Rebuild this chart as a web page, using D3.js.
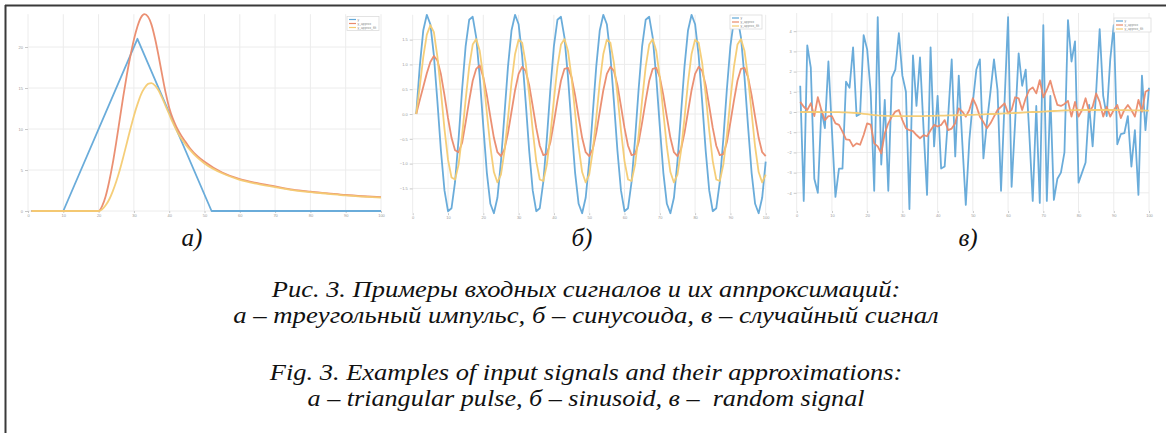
<!DOCTYPE html>
<html><head><meta charset="utf-8">
<script src="https://cdn.jsdelivr.net/npm/d3@7/dist/d3.min.js"></script>
<style>html,body{margin:0;padding:0;background:#fff;}svg{display:block;}</style>
</head><body>
<svg id="chart" width="1166" height="433"></svg>
<script>
// ---------- DATA ----------
const seriesNames = ["y", "y_approx", "y_approx_filt"];
const seriesColors = ["#62a8d8", "#ea8a6c", "#f4cb72"];

// Panel a: triangular pulse
const triX = [1, 10, 31, 52, 100];
const triY = [0, 0, 21, 0, 0];
const pulseApproxX = [1, 20, 21, 22, 23, 24, 25, 26, 27, 28, 29, 30, 31, 32, 33, 34, 35, 36, 37, 38, 39, 40, 41, 42, 43, 44, 45, 46, 48, 50, 55, 60, 65, 70, 75, 80, 85, 90, 95, 100];
const pulseApproxY = [0, 0, 0.6, 1.8, 3.6, 5.8, 8.4, 11.2, 14.0, 16.6, 18.9, 20.9, 22.5, 23.6, 24.0, 23.7, 22.7, 21.0, 18.9, 16.6, 14.4, 12.6, 11.3, 10.3, 9.5, 8.8, 8.2, 7.6, 6.7, 6.0, 4.7, 3.9, 3.4, 3.0, 2.6, 2.35, 2.15, 1.95, 1.8, 1.68];
const pulseFiltX = [1, 20, 21, 22, 23, 24, 25, 26, 27, 28, 29, 30, 31, 32, 33, 34, 35, 36, 37, 38, 39, 40, 41, 42, 43, 44, 45, 46, 48, 50, 55, 60, 65, 70, 75, 80, 85, 90, 95, 100];
const pulseFiltY = [0, 0, 0.2, 0.7, 1.4, 2.4, 3.6, 5.0, 6.6, 8.3, 10.0, 11.6, 13.0, 14.2, 15.0, 15.5, 15.6, 15.3, 14.7, 13.8, 12.8, 11.8, 10.8, 9.9, 9.1, 8.5, 7.9, 7.4, 6.5, 5.8, 4.6, 3.8, 3.3, 2.9, 2.55, 2.3, 2.1, 1.9, 1.75, 1.63];

// Panel b: sinusoid (samples 1..100)
const sineY = [0, 0.96, 1.69, 2.00, 1.81, 1.18, 0.25, -0.74, -1.54, -1.96, -1.90, -1.37, -0.50, 0.50, 1.37, 1.90, 1.96, 1.54, 0.74, -0.25, -1.18, -1.81, -2.00, -1.69, -0.96,
  0, 0.96, 1.69, 2.00, 1.81, 1.18, 0.25, -0.74, -1.54, -1.96, -1.90, -1.37, -0.50, 0.50, 1.37, 1.90, 1.96, 1.54, 0.74, -0.25, -1.18, -1.81, -2.00, -1.69, -0.96,
  0, 0.96, 1.69, 2.00, 1.81, 1.18, 0.25, -0.74, -1.54, -1.96, -1.90, -1.37, -0.50, 0.50, 1.37, 1.90, 1.96, 1.54, 0.74, -0.25, -1.18, -1.81, -2.00, -1.69, -0.96,
  0, 0.96, 1.69, 2.00, 1.81, 1.18, 0.25, -0.74, -1.54, -1.96, -1.90, -1.37, -0.50, 0.50, 1.37, 1.90, 1.96, 1.54, 0.74, -0.25, -1.18, -1.81, -2.00, -1.69, -0.96];
const sineApproxY = [0.00, 0.28, 0.55, 0.82, 1.05, 1.17, 1.08, 0.80, 0.38, -0.08, -0.48, -0.73, -0.77, -0.58, -0.17, 0.27, 0.67, 0.91, 0.98, 0.74, 0.38, -0.06, -0.48, -0.77, -0.85,
  -0.71, -0.38, 0.05, 0.48, 0.81, 0.95, 0.87, 0.58, 0.16, -0.28, -0.64, -0.83, -0.81, -0.57, -0.17, 0.27, 0.67, 0.91, 0.93, 0.74, 0.38, -0.06, -0.48, -0.77, -0.85,
  -0.71, -0.38, 0.05, 0.48, 0.81, 0.95, 0.87, 0.58, 0.16, -0.28, -0.64, -0.83, -0.81, -0.57, -0.17, 0.27, 0.67, 0.91, 0.93, 0.74, 0.38, -0.06, -0.48, -0.77, -0.85,
  -0.71, -0.38, 0.05, 0.48, 0.81, 0.95, 0.87, 0.58, 0.16, -0.28, -0.64, -0.83, -0.81, -0.57, -0.17, 0.27, 0.67, 0.91, 0.93, 0.74, 0.38, -0.06, -0.48, -0.77, -0.85];
const sineFiltY = [0.00, 0.55, 1.15, 1.60, 1.79, 1.65, 1.15, 0.45, -0.30, -0.92, -1.28, -1.32, -1.02, -0.43, 0.29, 0.95, 1.40, 1.51, 1.27, 0.74, 0.03, -0.66, -1.17, -1.38, -1.22,
  -0.75, -0.08, 0.64, 1.21, 1.50, 1.44, 1.03, 0.39, -0.33, -0.95, -1.32, -1.35, -1.02, -0.43, 0.29, 0.95, 1.40, 1.51, 1.27, 0.74, 0.03, -0.66, -1.17, -1.38, -1.22,
  -0.75, -0.08, 0.64, 1.21, 1.50, 1.44, 1.03, 0.39, -0.33, -0.95, -1.32, -1.35, -1.02, -0.43, 0.29, 0.95, 1.40, 1.51, 1.27, 0.74, 0.03, -0.66, -1.17, -1.38, -1.22,
  -0.75, -0.08, 0.64, 1.21, 1.50, 1.44, 1.03, 0.39, -0.33, -0.95, -1.32, -1.35, -1.02, -0.43, 0.29, 0.95, 1.40, 1.51, 1.27, 0.74, 0.03, -0.66, -1.17, -1.38, -1.22];

// Panel c: random signal (samples 1..100)
const randY = [1.3, -4.4, 3.3, 2.2, -3.3, -4.0, 0.1, -0.8, 2.5, -0.9,
  -4.2, -2.8, -2.8, 1.5, 1.2, 3.2, -0.2, -0.1, 3.8, 3.1,
  1.0, -3.9, 4.7, -2.6, 0.6, -3.9, 1.7, 2.1, 3.9, 1.8,
  1.0, -4.8, 2.8, 0.3, 2.7, -0.8, -4.1, 3.2, -1.7, 0.8,
  -2.8, -2.7, -0.2, 2.6, -2.2, 1.8, -1.5, -4.6, -1.4, 0.5,
  2.1, 2.6, -2.3, -0.5, 1.0, 2.6, 1.1, -3.9, 0.5, 4.7,
  -3.7, -0.5, 2.9, 1.3, 2.1, -1.0, -4.4, 0.3, -4.5, 4.3,
  -4.4, 0.8, -4.35, -3.3, -3.0, -2.0, 4.55, 2.5, 3.5, -3.5,
  -3.0, -2.5, 0.35, -1.7, 1.0, 4.1, 0.8, -0.2, 2.6, 4.3,
  -1.6, -1.1, -1.05, -0.2, -2.7, -0.9, -4.1, 1.8, -0.9, 1.2];
const randApproxY = [0.5, 0.26, 0.1, 0.43, -0.2, 0.73, 0.1, -0.4, -0.2, -0.2,
  -0.56, -0.64, -0.97, -1.35, -1.38, -1.7, -1.55, -1.62, -1.14, -0.56,
  -0.62, -1.55, -1.7, -2.05, -1.06, -0.56, -0.23, 0.02, 0.1, -0.4,
  -0.8, -0.9, -0.95, -1.14, -1.3, -1.15, -1.2, -0.9, -0.64, -0.72,
  -0.64, -0.4, -0.9, -0.82, -0.56, 0.18, 0.02, -0.23, 0.1, 0.68,
  0.3, -0.23, -0.5, -0.8, -0.56, -0.23, 0.1, 0.26, 0.43, -0.07,
  0.1, 0.73, 0.68, 0.1, 0.68, 1.09, 1.22, 0.92, 1.58, 0.73,
  1.09, 1.55, 0.9, 0.35, 0.3, 0.4, 0.55, -0.23, 0.5, -0.23,
  0.1, 0.68, 0.0, 0.26, 0.92, 0.5, -0.23, 0.26, -0.23, 0.1,
  0.35, -0.3, 0.1, 0.35, 0.1, -0.23, 0.6, 0.02, 1.0, 1.1];
const randFiltY = [0, 0, 0, 0, 0, 0, -0.01, -0.01, -0.01, -0.01,
  -0.01, -0.01, -0.02, -0.02, -0.03, -0.04, -0.05, -0.07, -0.09, -0.11,
  -0.13, -0.15, -0.17, -0.18, -0.19, -0.19, -0.2, -0.2, -0.2, -0.2,
  -0.2, -0.2, -0.2, -0.2, -0.2, -0.2, -0.19, -0.19, -0.19, -0.18,
  -0.18, -0.18, -0.17, -0.17, -0.16, -0.16, -0.15, -0.15, -0.14, -0.14,
  -0.13, -0.13, -0.12, -0.11, -0.1, -0.1, -0.09, -0.08, -0.07, -0.07,
  -0.06, -0.05, -0.04, -0.03, -0.02, -0.01, 0, 0, 0.01, 0.02,
  0.03, 0.04, 0.05, 0.06, 0.07, 0.08, 0.08, 0.09, 0.09, 0.1,
  0.1, 0.1, 0.1, 0.1, 0.1, 0.1, 0.1, 0.1, 0.1, 0.1,
  0.09, 0.09, 0.09, 0.09, 0.08, 0.08, 0.08, 0.08, 0.07, 0.07];

const xTicks = [0, 10, 20, 30, 40, 50, 60, 70, 80, 90, 100];
const aYTicks = [0, 5, 10, 15, 20];
const bYTicks = [-1.5, -1, -0.5, 0, 0.5, 1, 1.5];
const cYTicks = [-4, -3, -2, -1, 0, 1, 2, 3, 4];

const panelLetters = ["а)", "б)", "в)"];
const captionLines = [
  "Рис. 3. Примеры входных сигналов и их аппроксимаций:",
  "а – треугольный импульс, б – синусоида, в – случайный сигнал",
  "Fig. 3. Examples of input signals and their approximations:",
  "а – triangular pulse, б – sinusoid, в –  random signal"
];

// ---------- DRAW ----------
const svg = d3.select("#chart");
const sampleIdx = d3.range(1, 101);

function panel(cfg) {
  const x = d3.scaleLinear().domain([0, 100]).range([cfg.left, cfg.right]);
  const y = d3.scaleLinear().domain(cfg.yDomain).range([cfg.bottom, cfg.top]);
  const g = svg.append("g");
  // grid
  g.append("g").selectAll("line").data(xTicks).join("line")
    .attr("x1", d => x(d)).attr("x2", d => x(d))
    .attr("y1", cfg.top).attr("y2", cfg.bottom)
    .attr("stroke", "#ececec").attr("stroke-width", 1);
  g.append("g").selectAll("line").data(cfg.yTicks).join("line")
    .attr("x1", cfg.left).attr("x2", cfg.right)
    .attr("y1", d => y(d)).attr("y2", d => y(d))
    .attr("stroke", "#ececec").attr("stroke-width", 1);
  // axes (tick labels only)
  const xa = g.append("g").attr("transform", `translate(0,${cfg.bottom})`)
    .call(d3.axisBottom(x).tickValues(xTicks).tickSize(2).tickPadding(1));
  const ya = g.append("g").attr("transform", `translate(${cfg.left},0)`)
    .call(d3.axisLeft(y).tickValues(cfg.yTicks).tickSize(3).tickPadding(2));
  [xa, ya].forEach(a => {
    a.select(".domain").remove();
    a.selectAll(".tick line").attr("stroke", "#c8c8c8");
    a.selectAll("text").attr("fill", "#9a9a9a").style("font-size", "4px").style("font-family", "Liberation Sans, Arial, sans-serif");
  });
  // lines
  cfg.series.forEach((s, i) => {
    const line = d3.line().x(d => x(d[0])).y(d => y(d[1])).curve(s.curve || d3.curveLinear);
    g.append("path").datum(s.xs.map((v, k) => [v, s.ys[k]]))
      .attr("d", line).attr("fill", "none")
      .attr("stroke", seriesColors[i]).attr("stroke-width", 1.8)
      .attr("stroke-linejoin", "round").attr("opacity", 0.95);
  });
  // legend
  const L = cfg.legend;
  const lg = g.append("g").attr("transform", `translate(${L.x},${L.y})`);
  lg.append("rect").attr("width", L.w).attr("height", 14).attr("fill", "#fff")
    .attr("stroke", "#dcdcdc").attr("stroke-width", 0.8);
  seriesNames.forEach((n, i) => {
    lg.append("line").attr("x1", 2).attr("x2", 9).attr("y1", 3 + i * 4).attr("y2", 3 + i * 4)
      .attr("stroke", seriesColors[i]).attr("stroke-width", 1.2);
    lg.append("text").attr("x", 10.5).attr("y", 4.3 + i * 4).text(n)
      .attr("fill", "#888").style("font-size", "3.3px").style("font-family", "Liberation Sans, Arial, sans-serif");
  });
}

panel({
  left: 28, right: 381, top: 14.2, bottom: 211, yDomain: [0, 24], yTicks: aYTicks,
  legend: { x: 347, y: 16.5, w: 32 },
  series: [
    { xs: triX, ys: triY },
    { xs: pulseApproxX, ys: pulseApproxY, curve: d3.curveMonotoneX },
    { xs: pulseFiltX, ys: pulseFiltY, curve: d3.curveMonotoneX }
  ]
});
panel({
  left: 412.7, right: 765.7, top: 14.8, bottom: 213.2, yDomain: [-2, 2], yTicks: bYTicks,
  legend: { x: 730, y: 15, w: 32 },
  series: [
    { xs: sampleIdx, ys: sineY },
    { xs: sampleIdx, ys: sineApproxY },
    { xs: sampleIdx, ys: sineFiltY }
  ]
});
panel({
  left: 796.7, right: 1149, top: 13, bottom: 211, yDomain: [-4.9, 4.9], yTicks: cYTicks,
  legend: { x: 1114, y: 18, w: 37 },
  series: [
    { xs: sampleIdx, ys: randY },
    { xs: sampleIdx, ys: randApproxY },
    { xs: sampleIdx, ys: randFiltY }
  ]
});

// border (top and left)
svg.append("line").attr("x1", 5).attr("x2", 1166).attr("y1", 5.5).attr("y2", 5.5)
  .attr("stroke", "#3a3a3a").attr("stroke-width", 2);
svg.append("line").attr("x1", 5.5).attr("x2", 5.5).attr("y1", 5).attr("y2", 433)
  .attr("stroke", "#3a3a3a").attr("stroke-width", 2);

// panel letters
const letterX = [192, 582, 968];
panelLetters.forEach((t, i) => {
  svg.append("text").attr("x", letterX[i]).attr("y", 246).attr("text-anchor", "middle")
    .text(t).style("font-family", "Liberation Serif, Times New Roman, serif")
    .style("font-style", "italic").style("font-size", "25px").attr("fill", "#111");
});

// caption: natural spacing, glyphs widened horizontally to the reference widths
const capY = [297, 323, 380, 406];
const capW = [629, 706, 633, 557];
captionLines.forEach((t, i) => {
  const tx = svg.append("text").attr("x", 0).attr("y", 0).attr("text-anchor", "middle")
    .style("white-space", "pre")
    .text(t).style("font-family", "Liberation Serif, Times New Roman, serif")
    .style("font-style", "italic").style("font-size", "23.5px").attr("fill", "#111");
  const len = tx.node().getComputedTextLength();
  const sx = len > 0 ? capW[i] / len : 1;
  tx.attr("transform", `translate(586,${capY[i]}) scale(${sx},1)`);
});
</script>
</body></html>
